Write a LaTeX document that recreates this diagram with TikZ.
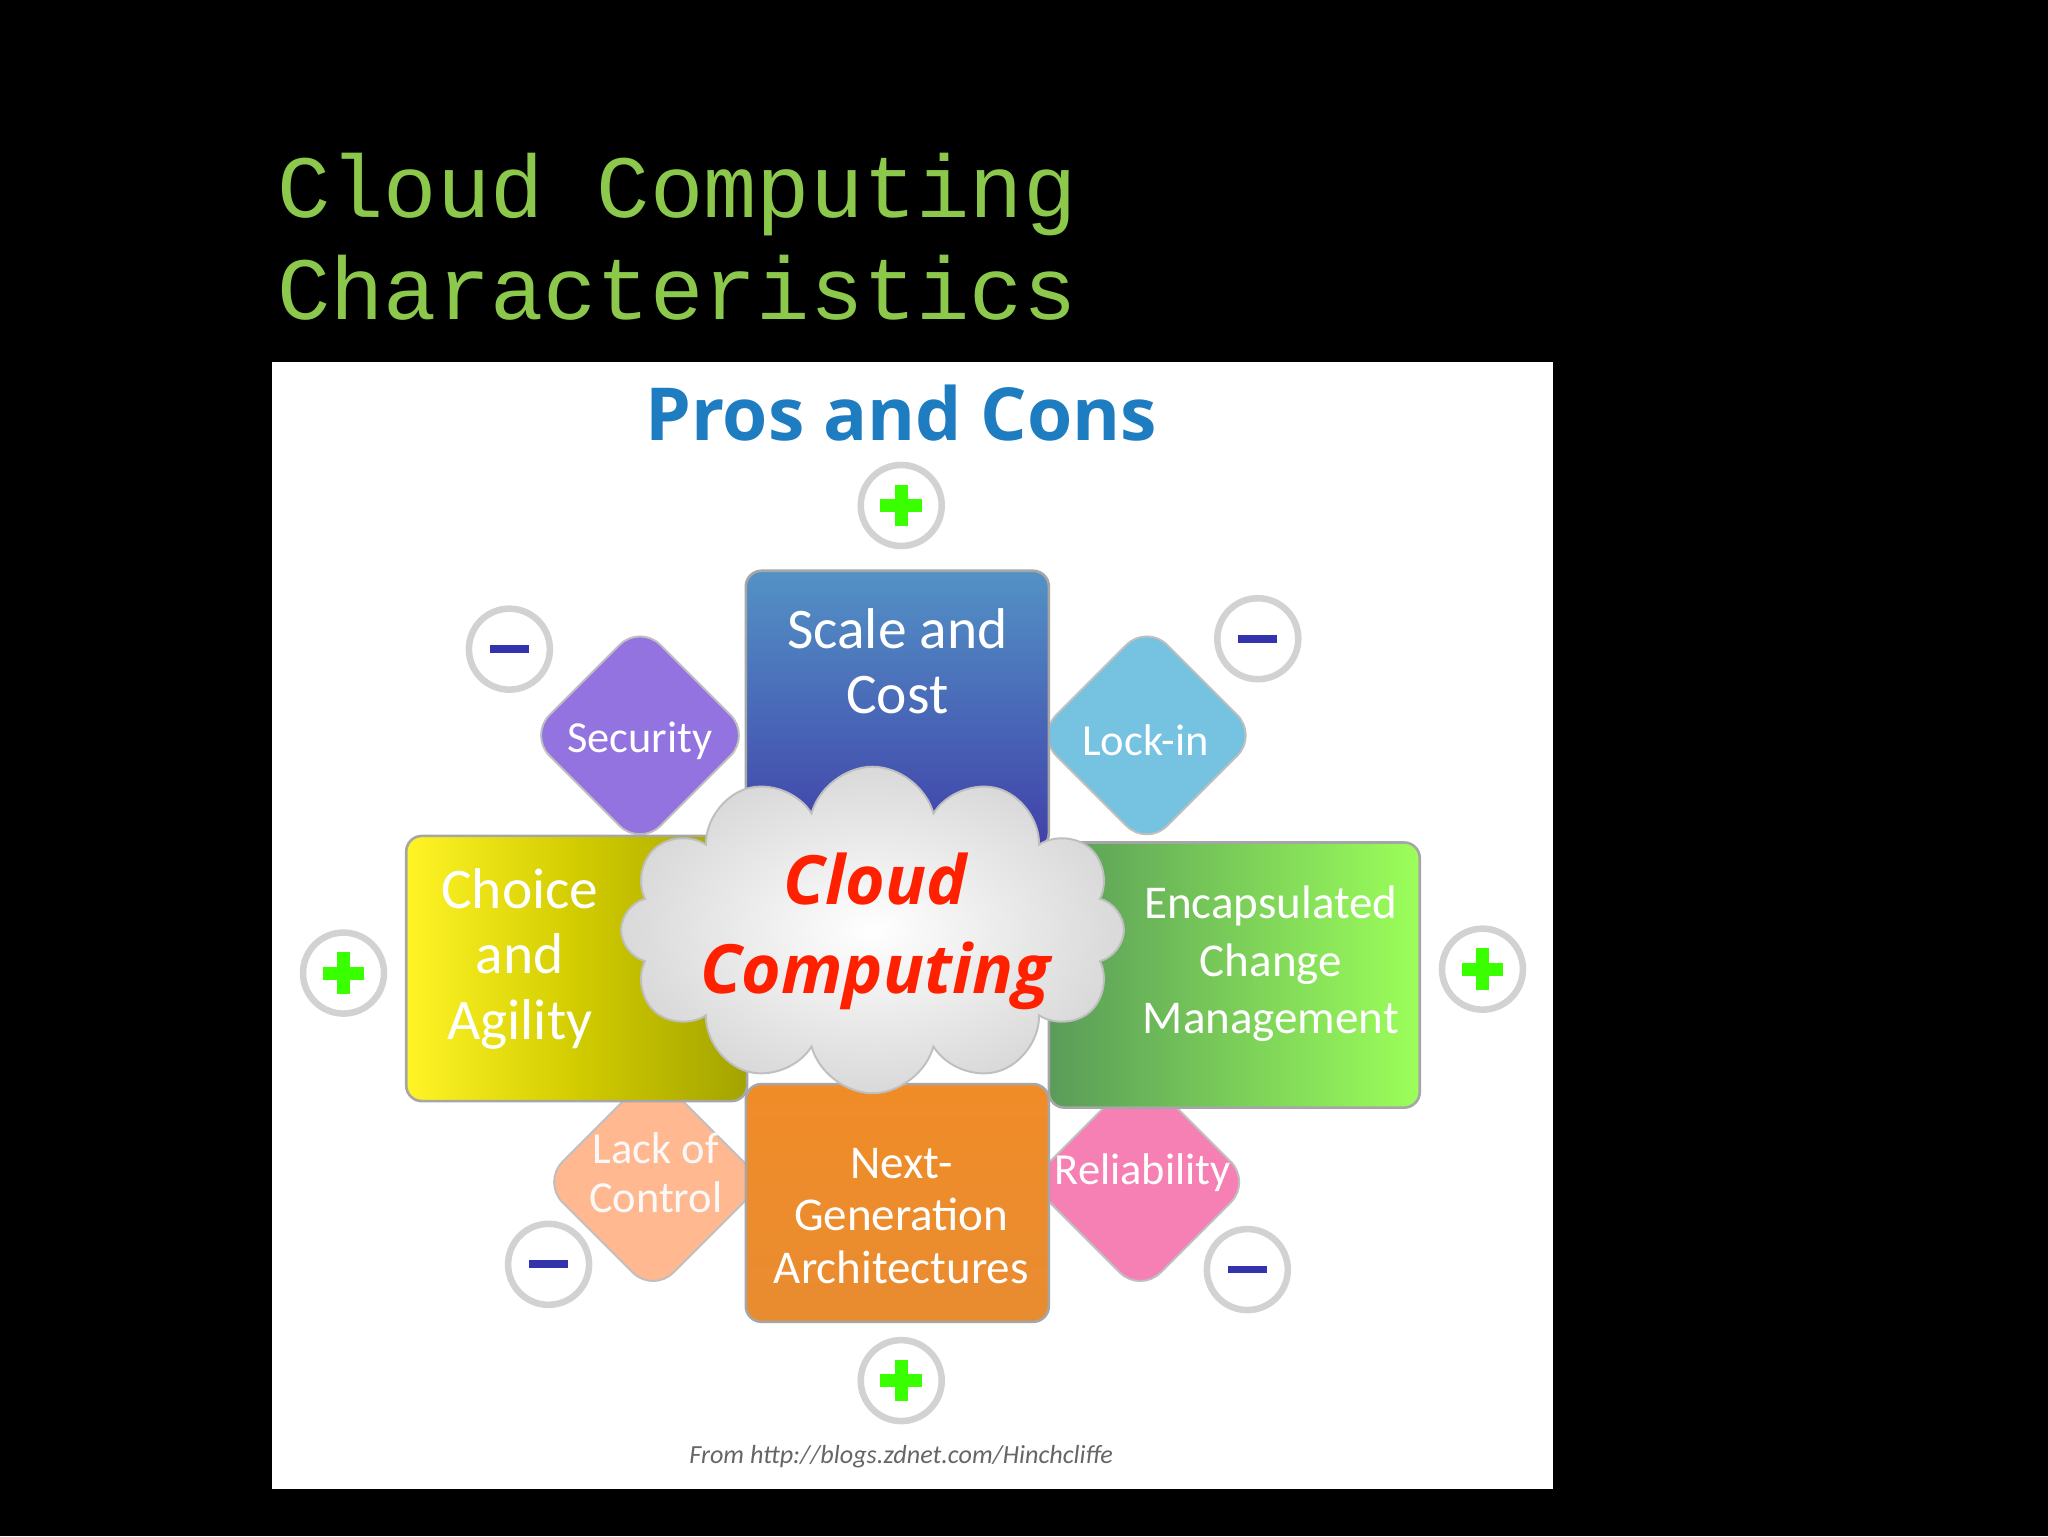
\documentclass[tikz,border=0pt]{standalone}
\usepackage{fontspec}
\setmainfont{Carlito}
\newfontfamily\monof{Liberation Mono}
\newfontfamily\boldf{Open Sans}
\usetikzlibrary{shapes.symbols}
\definecolor{ttlgreen}{HTML}{8CC84B}
\definecolor{prosblue}{HTML}{1E7CC0}
\tikzset{
 lbl/.style={text=white,align=center,font=\fontsize{44}{50}\selectfont},
 slbl/.style={text=white,align=center,font=\fontsize{34}{38}\selectfont},
 bx/.style={rounded corners=12,draw=gray!70,line width=2},
 dmd/.style={rounded corners=22,draw=gray!50,line width=1.5,rotate=45,minimum size=120,inner sep=0},
 pm/.style={circle,minimum size=62,fill=white,draw=gray!35,line width=5},
}
\begin{document}
\begin{tikzpicture}[x=1pt,y=-1pt]
\fill[black] (0,0) rectangle (1568,1176);
\useasboundingbox (0,0) rectangle (1568,1176);
\node[anchor=north west,text=ttlgreen,align=left,font=\monof\fontsize{68}{78}\selectfont,inner sep=0] (title) at (212,117) {Cloud Computing\\Characteristics};
\fill[white] (208,277) rectangle (1189,1140);
\node[text=prosblue,font=\boldf\bfseries\fontsize{56}{60}\selectfont] (pros) at (690,316) {Pros and Cons};
% diamonds
\node[dmd,fill=violet!45!blue!55] (dsec) at (490,563) {};
\node[dmd,fill=cyan!65!teal!60] (dlock) at (878,563) {};
\node[dmd,fill=orange!40!pink!80] (dlack) at (500,905) {};
\node[dmd,fill=magenta!50!pink!80] (drel) at (873,905) {};
\node[slbl] (tsec) at (490,567) {Security};
\node[slbl] (tlock) at (877,567) {Lock-in};
\node[slbl,text=white!95!gray] (tlack) at (502,898) {Lack of\\Control};
\node[slbl] (trel) at (875,898) {Reliability};
% boxes
\shade[bx,top color=blue!45!cyan!50!gray!90,bottom color=blue!55!black!75] (571,437) rectangle (803,650);
\shade[bx,left color=yellow!90!orange!85,right color=olive!80!yellow!90] (311,640) rectangle (572,843);
\shade[bx,left color=green!40!black!65,right color=green!60!yellow!65] (803,645) rectangle (1087,848);
\shade[bx,top color=orange!75!brown!90,bottom color=orange!60!brown!90] (571,830) rectangle (803,1012);
\node[lbl] (tscale) at (687,506) {Scale and\\Cost};
\node[lbl] (tchoice) at (398,734) {Choice\\and\\Agility};
\node[slbl,font=\fontsize{36}{44}\selectfont] (tenc) at (973,738) {Encapsulated\\Change\\Management};
\node[slbl,font=\fontsize{36}{40}\selectfont] (tnext) at (690,931) {Next-\\Generation\\Architectures};
% cloud
\node[cloud,cloud puffs=12,aspect=1.6,minimum width=385,minimum height=250,inner color=white,outer color=gray!30,draw=gray!50,line width=1.5] (cloud) at (668,712) {};
\node[text=red!75!orange,align=center,font=\boldf\bfseries\itshape\fontsize{52}{68}\selectfont] (tcloud) at (670,713) {Cloud\\Computing};
% plus/minus
\foreach \n/\x/\y in {pt/690/387,pl/263/745,pr/1135/742,pb/690/1057}{
 \node[pm] (\n) at (\x,\y) {};
 \fill[green!70!lime] (\x-16,\y-5) rectangle (\x+16,\y+5);
 \fill[green!70!lime] (\x-5,\y-16) rectangle (\x+5,\y+16);
}
\foreach \n/\x/\y in {m1/390/497,m2/963/489,m3/420/968,m4/955/972}{
 \node[pm] (\n) at (\x,\y) {};
 \fill[blue!60!black!80] (\x-15,\y-3) rectangle (\x+15,\y+3);
}
\node[text=gray!80!black,font=\itshape\fontsize{20}{24}\selectfont] (foot) at (690,1115) {From http://blogs.zdnet.com/Hinchcliffe};
\end{tikzpicture}
\end{document}
